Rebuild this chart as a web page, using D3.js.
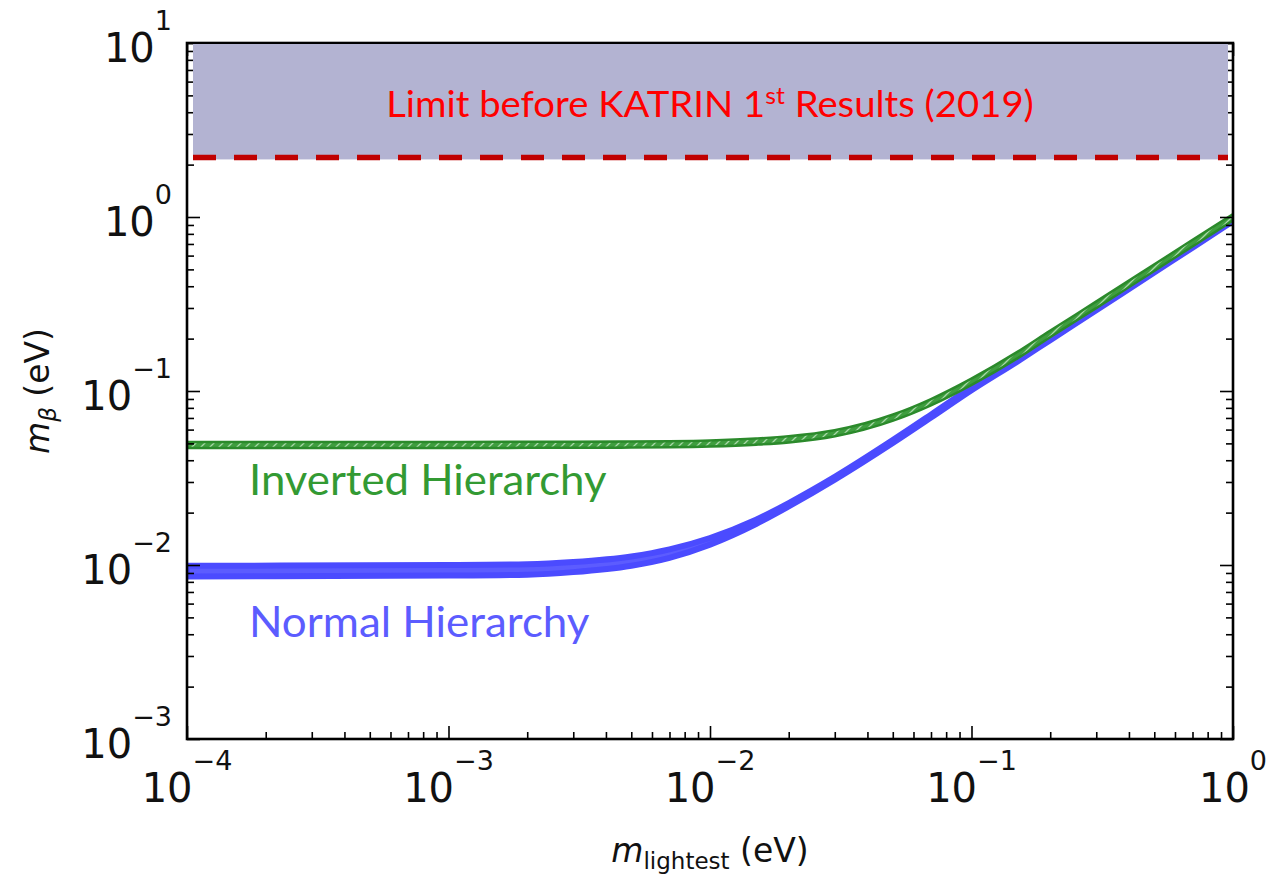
<!DOCTYPE html>
<html>
<head>
<meta charset="utf-8">
<script src="https://cdn.jsdelivr.net/npm/d3@7"></script>
<style>
  html, body { margin: 0; padding: 0; background: #fff; }
  svg { display: block; }
</style>
</head>
<body>
<svg id="chart" width="1269" height="875"></svg>
<script>
// Lightest neutrino mass samples (eV)
const mLightest = [1e-4, 1e-3, 2e-3, 3e-3, 5e-3, 7e-3, 1e-2, 1.5e-2, 2e-2, 3e-2,
                   5e-2, 7e-2, 0.1, 0.15, 0.2, 0.3, 0.5, 0.7, 1];

// Effective electron-neutrino mass band, normal hierarchy (eV)
const normalLow  = [0.0086, 0.0087, 0.0088, 0.0091, 0.0099, 0.0110, 0.0131, 0.0172, 0.0217, 0.0309,
                    0.0502, 0.0703, 0.1010, 0.1480, 0.1960, 0.2910, 0.4800, 0.6660, 0.9480];
const normalHigh = [0.0099, 0.0100, 0.0101, 0.0104, 0.0112, 0.0123, 0.0143, 0.0182, 0.0227, 0.0321,
                    0.0522, 0.0731, 0.1050, 0.1540, 0.2040, 0.3030, 0.5000, 0.6940, 0.9860];

// Effective electron-neutrino mass band, inverted hierarchy (eV)
const invertedLow  = [0.0478, 0.0478, 0.0479, 0.0479, 0.0481, 0.0483, 0.0488, 0.0500, 0.0515, 0.0558,
                      0.0686, 0.0842, 0.1104, 0.1572, 0.2080, 0.3057, 0.5000, 0.6914, 0.9727];
const invertedHigh = [0.0501, 0.0501, 0.0502, 0.0502, 0.0504, 0.0506, 0.0511, 0.0524, 0.0540, 0.0585,
                      0.0719, 0.0883, 0.1157, 0.1649, 0.2181, 0.3205, 0.5243, 0.7250, 1.0199];

// Upper limit on m_beta before the first KATRIN results (eV)
const preKatrinLimit = 2.2;

// Axis decades (exponents of ten)
const xDecades = [-4, -3, -2, -1, 0];
const yDecades = [-3, -2, -1, 0, 1];

const limitText = ["Limit before KATRIN 1", "st", " Results (2019)"];
const invertedLabel = "Inverted Hierarchy";
const normalLabel = "Normal Hierarchy";

// ---- layout ----
const plot = { left: 187, right: 1233, top: 43, bottom: 739 };
const svg = d3.select("#chart");

const x = d3.scaleLog()
  .domain([Math.pow(10, xDecades[0]), Math.pow(10, xDecades[xDecades.length - 1])])
  .range([plot.left, plot.right]);
const y = d3.scaleLog()
  .domain([Math.pow(10, yDecades[0]), Math.pow(10, yDecades[yDecades.length - 1])])
  .range([plot.bottom, plot.top]);

const defs = svg.append("defs");
defs.append("clipPath").attr("id", "plotClip")
  .append("rect")
  .attr("x", plot.left).attr("y", plot.top)
  .attr("width", plot.right - plot.left).attr("height", plot.bottom - plot.top);

// hatch fill for the inverted-hierarchy band
const hatch = defs.append("pattern")
  .attr("id", "ihHatch")
  .attr("patternUnits", "userSpaceOnUse")
  .attr("width", 9).attr("height", 9);
hatch.append("rect").attr("width", 9).attr("height", 9).attr("fill", "#3f9e3f");
hatch.append("path")
  .attr("d", "M0,9 L9,0 M-2,2 L2,-2 M7,11 L11,7")
  .attr("stroke", "#a9d8a9").attr("stroke-width", 1.3);

// ---- bands ----
const bands = svg.append("g").attr("clip-path", "url(#plotClip)");

function bandArea(lo, hi) {
  return d3.area()
    .x((d, i) => x(mLightest[i]))
    .y0((d, i) => y(lo[i]))
    .y1((d, i) => y(hi[i]))
    .curve(d3.curveMonotoneX)(mLightest);
}

bands.append("path")
  .attr("d", bandArea(normalLow, normalHigh))
  .attr("fill", "#5c5cff")
  .attr("stroke", "#4b4bff")
  .attr("stroke-width", 6)
  .attr("stroke-linejoin", "round");

bands.append("path")
  .attr("d", bandArea(invertedLow, invertedHigh))
  .attr("fill", "url(#ihHatch)")
  .attr("stroke", "#2b8a2b")
  .attr("stroke-width", 5)
  .attr("stroke-linejoin", "round")
  .style("paint-order", "stroke");

// ---- ticks on all four sides, pointing inward ----
const decadeTicks = (decs) => decs.map(d => Math.pow(10, d));
const minorTicks = (decs) => d3.range(decs[0], decs[decs.length - 1])
  .flatMap(d => d3.range(2, 10).map(k => k * Math.pow(10, d)));

const xMajor = decadeTicks(xDecades), xMinor = minorTicks(xDecades);
const yMajor = decadeTicks(yDecades), yMinor = minorTicks(yDecades);

function tickGroup(axis, tx, ty) {
  const g = svg.append("g").attr("transform", `translate(${tx},${ty})`).call(axis);
  g.select(".domain").remove();
  g.selectAll("text").remove();
  g.selectAll("line").attr("stroke", "#000").attr("stroke-width", 1.6);
  return g;
}
const majorLen = 13, minorLen = 7;
[[xMajor, majorLen], [xMinor, minorLen]].forEach(([vals, len]) => {
  tickGroup(d3.axisBottom(x).tickValues(vals).tickSize(-len), 0, plot.bottom);
  tickGroup(d3.axisTop(x).tickValues(vals).tickSize(-len), 0, plot.top);
});
[[yMajor, majorLen], [yMinor, minorLen]].forEach(([vals, len]) => {
  tickGroup(d3.axisLeft(y).tickValues(vals).tickSize(-len), plot.left, 0);
  tickGroup(d3.axisRight(y).tickValues(vals).tickSize(-len), plot.right, 0);
});

// frame
svg.append("rect")
  .attr("x", plot.left).attr("y", plot.top)
  .attr("width", plot.right - plot.left).attr("height", plot.bottom - plot.top)
  .attr("fill", "none").attr("stroke", "#000").attr("stroke-width", 2.6);

// ---- tick labels: 10 with a superscript exponent ----
const tickFont = "'DejaVu Sans', sans-serif";
function powLabel(px, py, exp, anchor) {
  const t = svg.append("text")
    .attr("x", px).attr("y", py)
    .attr("text-anchor", anchor)
    .attr("font-family", tickFont)
    .attr("fill", "#111");
  t.append("tspan").attr("font-size", 40).text("10");
  t.append("tspan").attr("font-size", 27).attr("dy", -32)
    .text(exp < 0 ? "\u2212" + (-exp) : String(exp));
}
xDecades.forEach(d => powLabel(x(Math.pow(10, d)), plot.bottom + 63, d, "middle"));
yDecades.forEach(d => powLabel(172, y(Math.pow(10, d)) + 19, d, "end"));

// ---- axis titles ----
const xTitle = svg.append("text")
  .attr("x", (plot.left + plot.right) / 2).attr("y", 862)
  .attr("text-anchor", "middle")
  .attr("font-family", tickFont).attr("font-size", 33).attr("fill", "#111");
xTitle.append("tspan").attr("font-style", "italic").text("m");
xTitle.append("tspan").attr("font-size", 23).attr("dy", 7).text("lightest");
xTitle.append("tspan").attr("dy", -7).text(" (eV)");

const yTitle = svg.append("text")
  .attr("transform", `translate(49,${(plot.top + plot.bottom) / 2}) rotate(-90)`)
  .attr("text-anchor", "middle")
  .attr("font-family", tickFont).attr("font-size", 33).attr("fill", "#111");
yTitle.append("tspan").attr("font-style", "italic").text("m");
yTitle.append("tspan").attr("font-style", "italic").attr("font-size", 23).attr("dy", 7).text("\u03b2");
yTitle.append("tspan").attr("dy", -7).text(" (eV)");

// ---- excluded region above the pre-KATRIN limit ----
const regionLeft = x(Math.pow(10, xDecades[0])) + 6;
const regionRight = x(Math.pow(10, xDecades[xDecades.length - 1])) - 5;
const regionTop = y(Math.pow(10, yDecades[yDecades.length - 1])) + 1;
svg.append("rect")
  .attr("x", regionLeft)
  .attr("y", regionTop)
  .attr("width", regionRight - regionLeft)
  .attr("height", y(preKatrinLimit) + 2 - regionTop)
  .attr("fill", "#b3b3d2");
svg.append("line")
  .attr("x1", regionLeft).attr("x2", regionRight)
  .attr("y1", y(preKatrinLimit)).attr("y2", y(preKatrinLimit))
  .attr("stroke", "#c00000").attr("stroke-width", 5.5)
  .attr("stroke-dasharray", "23,18");

// ---- annotations ----
const annFont = "Lato, 'Open Sans', sans-serif";
function fitWidth(sel, anchorX, width) {
  const w = sel.node().getBBox().width;
  const s = width / w;
  sel.attr("transform", `translate(${anchorX},0) scale(${s},1) translate(${-anchorX},0)`);
}

const limit = svg.append("text")
  .attr("x", 710).attr("y", 117)
  .attr("text-anchor", "middle")
  .attr("font-family", annFont).attr("font-size", 37).attr("fill", "#ff0000");
limit.append("tspan").text(limitText[0]);
limit.append("tspan").attr("font-size", 24).attr("dy", -13).text(limitText[1]);
limit.append("tspan").attr("dy", 13).text(limitText[2]);
fitWidth(limit, 710, 648);

const inv = svg.append("text")
  .attr("x", 249).attr("y", 495)
  .attr("font-family", annFont).attr("font-size", 42).attr("fill", "#339a33")
  .text(invertedLabel);
fitWidth(inv, 249, 358);

const norm = svg.append("text")
  .attr("x", 249).attr("y", 637)
  .attr("font-family", annFont).attr("font-size", 42).attr("fill", "#5c5cff")
  .text(normalLabel);
fitWidth(norm, 249, 341);
</script>
</body>
</html>
